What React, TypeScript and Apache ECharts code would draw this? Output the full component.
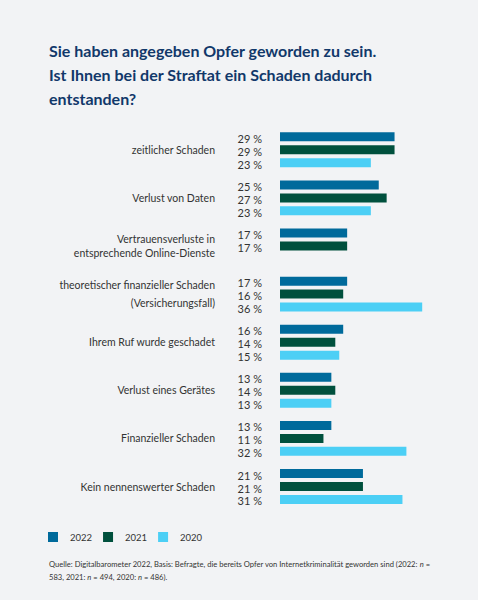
import { useEffect, useRef } from "react";
import * as echarts from "echarts";

const categories = [
  "zeitlicher Schaden",
  "Verlust von Daten",
  "Vertrauensverluste in\nentsprechende Online-Dienste",
  "theoretischer finanzieller Schaden\n(Versicherungsfall)",
  "Ihrem Ruf wurde geschadet",
  "Verlust eines Gerätes",
  "Finanzieller Schaden",
  "Kein nennenswerter Schaden",
];

const years = ["2022", "2021", "2020"];
const values2022 = [29, 25, 17, 17, 16, 13, 13, 21];
const values2021 = [29, 27, 17, 16, 14, 14, 11, 21];
const values2020 = [23, 23, null, 36, 15, 13, 32, 31];
const colors = ["#006a9b", "#00503d", "#4ccff5"];

const FONT = "Lato, sans-serif";

function Chart() {
  const ref = useRef<HTMLDivElement>(null);
  useEffect(() => {
    if (!ref.current) return;
    const chart = echarts.init(ref.current, undefined, { renderer: "svg" });
    const seriesData = [values2022, values2021, values2020];
    chart.setOption({
      animation: false,
      backgroundColor: "#f2f3f5",
      textStyle: { fontFamily: FONT },
      title: {
        text:
          "Sie haben angegeben Opfer geworden zu sein.\nIst Ihnen bei der Straftat ein Schaden dadurch\nentstanden?",
        left: 49,
        top: 38,
        padding: 0,
        textStyle: {
          fontFamily: FONT,
          fontSize: 16,
          lineHeight: 24,
          fontWeight: "bold",
          color: "#11386a",
        },
      },
      legend: {
        data: years,
        left: 48,
        top: 532,
        padding: 0,
        itemWidth: 10,
        itemHeight: 10,
        itemGap: 11,
        icon: "rect",
        textStyle: {
          fontFamily: FONT,
          fontSize: 9.5,
          color: "#333",
          width: 24,
          padding: [0, 0, 0, 7],
        },
      },
      grid: { left: 280, top: 125.75, width: 158, height: 384.8 },
      xAxis: {
        type: "value",
        min: 0,
        max: 40,
        show: false,
      },
      yAxis: {
        type: "category",
        inverse: true,
        data: categories.map((c, i) => ({
          value: c,
          textStyle: i === 3 ? { lineHeight: 18.5 } : { lineHeight: 13.5 },
        })),
        axisLine: { show: false },
        axisTick: { show: false },
        axisLabel: {
          margin: 65,
          fontFamily: FONT,
          fontSize: 10.5,
          color: "#333",
          align: "right",
        },
      },
      series: years.map((y, i) => ({
        name: y,
        type: "bar",
        data: seriesData[i],
        barWidth: 9,
        barGap: "44%",
        itemStyle: { color: colors[i] },
        label: {
          show: true,
          position: "left",
          distance: 18,
          offset: [0, 1.5],
          formatter: "{c} %",
          fontFamily: FONT,
          fontSize: 11,
          lineHeight: 11,
          color: "#333",
        },
      })),
      graphic: [
        {
          type: "text",
          left: 49,
          top: 558,
          style: {
            text:
              "Quelle: Digitalbarometer 2022, Basis: Befragte, die bereits Opfer von Internetkriminalität geworden sind (2022: {i|n} =\n583, 2021: {i|n} = 494, 2020: {i|n} = 486).",
            fontFamily: FONT,
            fontSize: 7.6,
            lineHeight: 12.4,
            fill: "#333",
            rich: {
              i: { fontStyle: "italic", fontFamily: FONT, fontSize: 7.6, fill: "#333" },
            },
          },
        },
      ],
    });
    return () => chart.dispose();
  }, []);
  return <div ref={ref} style={{ width: 478, height: 600 }} />;
}

export default function App() {
  useEffect(() => {
    document.body.style.margin = "0";
    document.body.style.background = "#f2f3f5";
  }, []);
  return <Chart />;
}
